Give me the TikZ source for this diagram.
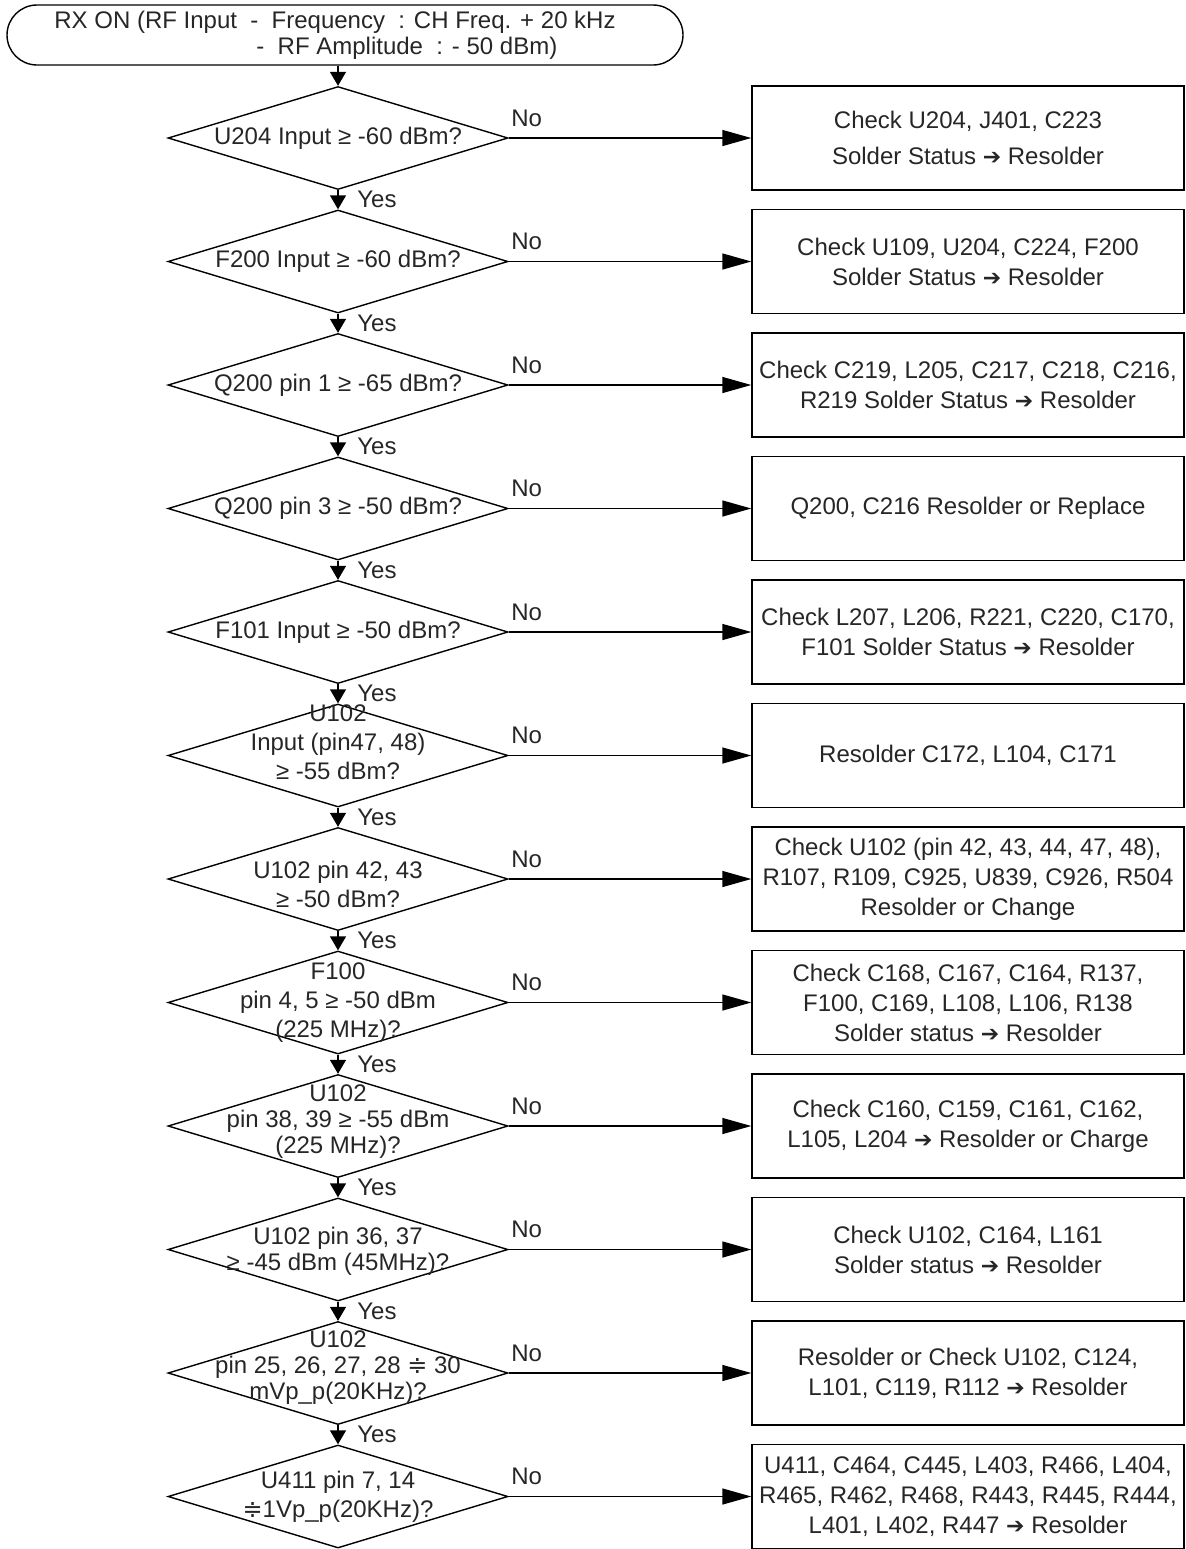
\documentclass[tikz,border=0pt]{standalone}
\usepackage{fontspec}
\setmainfont{Liberation Sans}
\newfontfamily\symfont{DejaVu Sans}
\usetikzlibrary{shapes.geometric,arrows.meta}
\newcommand{\thento}{{\symfont\fontsize{11}{11}\selectfont ➔}}
\newcommand{\nearly}{{\symfont ≑}}

\tikzset{
	terminal/.style={draw, rounded corners=15pt, minimum width=338pt, minimum height=30pt, align=left, inner sep=0pt, font=\fontsize{12}{13}\selectfont},
	decision/.style={draw, diamond, minimum width=170pt, minimum height=51.5pt, inner sep=0pt},
	asktext/.style={align=center, inner sep=0pt, font=\fontsize{12}{14.5}\selectfont},
	tightask/.style={asktext, font=\fontsize{12}{13}\selectfont},
	fixbox/.style={draw, rectangle, minimum width=216pt, minimum height=52pt, align=center, inner sep=0pt, font=\fontsize{12}{15}\selectfont},
	down/.style={-{Triangle[length=7pt, width=8pt]}},
	across/.style={-{Triangle[length=14.5pt, width=8pt]}},
	yeslabel/.style={right, xshift=6pt, font=\fontsize{12}{14}\selectfont},
	nolabel/.style={pos=0, anchor=south west, inner sep=0pt, xshift=1pt, yshift=5.5pt, font=\fontsize{12}{14}\selectfont},
}

\begin{document}
\begin{tikzpicture}[x=0.5pt, y=-0.5pt, line width=0.7pt, every node/.style={text=black!85}]
			\useasboundingbox (0,0) rectangle (1185,1549);
			
			\node[terminal] (start) at (345,35) {RX ON (RF Input~~-~~Frequency~~: CH Freq. + 20 kHz\hspace*{10pt}\\ \hspace*{101pt}-~~RF Amplitude~~: - 50 dBm)};
			
			\node[decision] (q1) at (338,138) {};
			\node[decision] (q2) at (338,261.5) {};
			\node[decision] (q3) at (338,385) {};
			\node[decision] (q4) at (338,508.5) {};
			\node[decision] (q5) at (338,632) {};
			\node[decision] (q6) at (338,755.5) {};
			\node[decision] (q7) at (338,879) {};
			\node[decision] (q8) at (338,1002.5) {};
			\node[decision] (q9) at (338,1126) {};
			\node[decision] (q10) at (338,1249.5) {};
			\node[decision] (q11) at (338,1373) {};
			\node[decision] (q12) at (338,1496.5) {};
			
			\node[asktext] (t1) at (q1) {U204 Input ≥ -60 dBm?};
			\node[asktext] (t2) at (q2) {F200 Input ≥ -60 dBm?};
			\node[asktext] (t3) at (q3) {Q200 pin 1 ≥ -65 dBm?};
			\node[asktext] (t4) at (q4) {Q200 pin 3 ≥ -50 dBm?};
			\node[asktext] (t5) at (q5) {F101 Input ≥ -50 dBm?};
			\node[asktext] (t6) at (338,742) {U102\\Input (pin47, 48)\\≥ -55 dBm?};
			\node[asktext] (t7) at (338,884) {U102 pin 42, 43\\≥ -50 dBm?};
			\node[asktext] (t8) at (q8) {F100\\pin 4, 5 ≥ -50 dBm\\(225 MHz)?};
			\node[tightask] (t9) at (338,1122) {U102\\pin 38, 39 ≥ -55 dBm\\(225 MHz)?};
			\node[tightask] (t10) at (338,1251) {U102 pin 36, 37\\≥ -45 dBm (45MHz)?};
			\node[tightask] (t11) at (338,1368) {U102\\pin 25, 26, 27, 28 \nearly{} 30\\mVp\_p(20KHz)?};
			\node[asktext] (t12) at (q12) {U411 pin 7, 14\\\nearly{}1Vp\_p(20KHz)?};
			
			\node[fixbox] (a1) at (968,138) {Check U204, J401, C223\\[3pt]Solder Status \thento{} Resolder};
			\node[fixbox] (a2) at (968,261.5) {Check U109, U204, C224, F200\\Solder Status \thento{} Resolder};
			\node[fixbox] (a3) at (968,385) {Check C219, L205, C217, C218, C216,\\R219 Solder Status \thento{} Resolder};
			\node[fixbox] (a4) at (968,508.5) {Q200, C216 Resolder or Replace};
			\node[fixbox] (a5) at (968,632) {Check L207, L206, R221, C220, C170,\\F101 Solder Status \thento{} Resolder};
			\node[fixbox] (a6) at (968,755.5) {Resolder C172, L104, C171};
			\node[fixbox] (a7) at (968,879) {Check U102 (pin 42, 43, 44, 47, 48),\\R107, R109, C925, U839, C926, R504\\Resolder or Change};
			\node[fixbox] (a8) at (968,1002.5) {Check C168, C167, C164, R137,\\F100, C169, L108, L106, R138\\Solder status \thento{} Resolder};
			\node[fixbox] (a9) at (968,1126) {Check C160, C159, C161, C162,\\L105, L204 \thento{} Resolder or Charge};
			\node[fixbox] (a10) at (968,1249.5) {Check U102, C164, L161\\Solder status \thento{} Resolder};
			\node[fixbox] (a11) at (968,1373) {Resolder or Check U102, C124,\\L101, C119, R112 \thento{} Resolder};
			\node[fixbox] (a12) at (968,1496.5) {U411, C464, C445, L403, R466, L404,\\R465, R462, R468, R443, R445, R444,\\L401, L402, R447 \thento{} Resolder};
			
			\draw[down] (start.south -| q1.north) -- (q1.north);
			\draw[down] (q1.south) -- node[yeslabel] {Yes} (q2.north);
			\draw[down] (q2.south) -- node[yeslabel] {Yes} (q3.north);
			\draw[down] (q3.south) -- node[yeslabel] {Yes} (q4.north);
			\draw[down] (q4.south) -- node[yeslabel] {Yes} (q5.north);
			\draw[down] (q5.south) -- node[yeslabel] {Yes} (q6.north);
			\draw[down] (q6.south) -- node[yeslabel] {Yes} (q7.north);
			\draw[down] (q7.south) -- node[yeslabel] {Yes} (q8.north);
			\draw[down] (q8.south) -- node[yeslabel] {Yes} (q9.north);
			\draw[down] (q9.south) -- node[yeslabel] {Yes} (q10.north);
			\draw[down] (q10.south) -- node[yeslabel] {Yes} (q11.north);
			\draw[down] (q11.south) -- node[yeslabel] {Yes} (q12.north);
			
			\draw[across] (q1.east) -- node[nolabel] {No} (a1.west);
			\draw[across] (q2.east) -- node[nolabel] {No} (a2.west);
			\draw[across] (q3.east) -- node[nolabel] {No} (a3.west);
			\draw[across] (q4.east) -- node[nolabel] {No} (a4.west);
			\draw[across] (q5.east) -- node[nolabel] {No} (a5.west);
			\draw[across] (q6.east) -- node[nolabel] {No} (a6.west);
			\draw[across] (q7.east) -- node[nolabel] {No} (a7.west);
			\draw[across] (q8.east) -- node[nolabel] {No} (a8.west);
			\draw[across] (q9.east) -- node[nolabel] {No} (a9.west);
			\draw[across] (q10.east) -- node[nolabel] {No} (a10.west);
			\draw[across] (q11.east) -- node[nolabel] {No} (a11.west);
			\draw[across] (q12.east) -- node[nolabel] {No} (a12.west);
		\end{tikzpicture}
\end{document}
